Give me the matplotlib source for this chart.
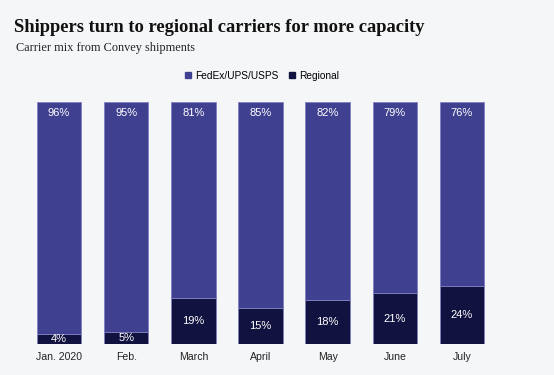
import matplotlib
matplotlib.use("Agg")
import matplotlib.pyplot as plt
import numpy as np

months = ["Jan. 2020", "Feb.", "March", "April", "May", "June", "July"]
national = [96, 95, 81, 85, 82, 79, 76]
regional = [4, 5, 19, 15, 18, 21, 24]
series_names = ["FedEx/UPS/USPS", "Regional"]

bg = "#F5F6F8"
c_nat = "#404090"
c_reg = "#121240"
edge = "#8080C0"

fig = plt.figure(figsize=(5.54, 3.75), dpi=100, facecolor=bg)
ax = fig.add_axes([25.5/554, 1-344/375, 470/554, 242/375], facecolor=bg)

x = np.arange(len(months))
w = 0.66
ax.bar(x, regional, width=w, color=c_reg, edgecolor=edge, linewidth=0.6, label=series_names[1])
ax.bar(x, national, width=w, bottom=regional, color=c_nat, edgecolor=edge, linewidth=0.6, label=series_names[0])

for i in range(len(x)):
    ax.text(x[i], 100 - 4.5, f"{national[i]}%", ha="center", va="center", color="white",
            fontsize=8, family="Liberation Sans")
    ax.text(x[i], regional[i] / 2, f"{regional[i]}%", ha="center", va="center", color="white",
            fontsize=8, family="Liberation Sans")

ax.set_xlim(-0.5, len(x) - 0.5)
ax.set_ylim(0, 100)
ax.set_yticks([])
ax.set_xticks(x)
ax.set_xticklabels(months, fontsize=7.6, family="Liberation Sans", color="#222222")
ax.tick_params(axis="x", length=0, pad=6)
for s in ax.spines.values():
    s.set_visible(False)

fig.text(14/554, 1-28/375, "Shippers turn to regional carriers for more capacity", fontsize=13.3,
         fontweight="bold", family="Liberation Serif", va="center", ha="left", color="#111111")
fig.text(16/554, 1-48/375, "Carrier mix from Convey shipments", fontsize=8.8,
         family="Liberation Serif", va="center", ha="left", color="#222222")

from matplotlib.lines import Line2D
handles = [Line2D([], [], marker="s", linestyle="", color=c_nat, markersize=5),
           Line2D([], [], marker="s", linestyle="", color=c_reg, markersize=5)]
fig.legend(handles, series_names, loc="center", bbox_to_anchor=(261/554, 1-76/375), ncol=2,
           frameon=False, prop={"family": "Liberation Sans", "size": 7.3},
           handletextpad=0.2, columnspacing=0.8, handlelength=1.0)

fig.savefig("out.png", dpi=100, facecolor=bg)
